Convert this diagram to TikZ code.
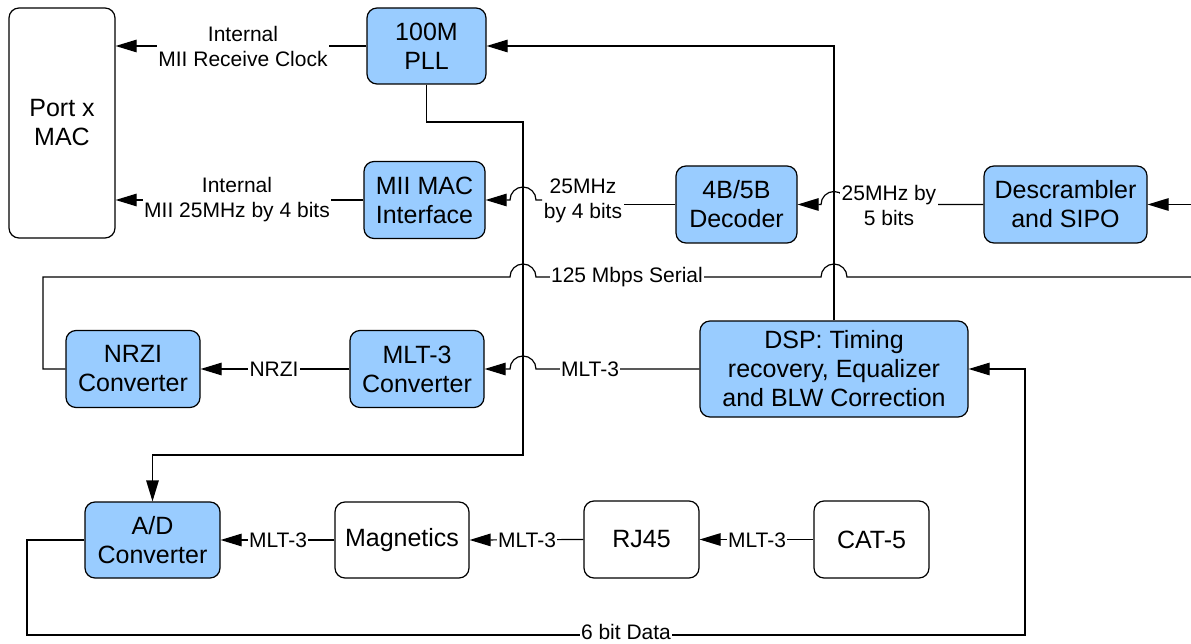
\documentclass[tikz,border=0pt]{standalone}
\usepackage{fontspec}
\setmainfont{Liberation Sans}
\usetikzlibrary{arrows.meta,calc}
\definecolor{boxblue}{RGB}{153,204,255}
\begin{document}
\begin{tikzpicture}[x=1pt,y=-1pt,
  box/.style={draw, line width=1.2pt, rounded corners=10pt, fill=boxblue, align=center,
    font=\fontsize{25}{29}\selectfont, inner sep=0pt},
  wbox/.style={box, fill=white},
  lbl/.style={fill=white, align=center, font=\fontsize{21}{25}\selectfont, inner sep=1.5pt},
  conn/.style={line width=1.2pt},
  arr/.style={conn, -{Triangle[length=21pt,width=12.5pt]}},
]
\useasboundingbox (0,0) rectangle (1191,644);

% boxes
\node[wbox, minimum width=106pt, minimum height=230pt] (port) at (62,123) {Port x\\MAC};
\node[box, minimum width=119pt, minimum height=76pt] (pll) at (426.5,46) {100M\\PLL};
\node[box, minimum width=121pt, minimum height=77pt] (mii) at (424.5,200) {MII MAC\\Interface};
\node[box, minimum width=121pt, minimum height=77pt] (dec) at (736.5,204.5) {4B/5B\\Decoder};
\node[box, minimum width=163pt, minimum height=77pt] (desc) at (1065.5,204.5) {Descrambler\\and SIPO};
\node[box, minimum width=134pt, minimum height=77pt] (nrzi) at (133,369) {NRZI\\Converter};
\node[box, minimum width=134pt, minimum height=77pt] (mlt) at (417,369) {MLT-3\\Converter};
\node[box, minimum width=268pt, minimum height=96pt] (dsp) at (834,369) {DSP: Timing\\recovery, Equalizer\\and BLW Correction};
\node[box, minimum width=135pt, minimum height=76pt] (adc) at (152.5,540) {A/D\\Converter};
\node[wbox, minimum width=134pt, minimum height=76pt] (mag) at (402,540) {Magnetics};
\node[wbox, minimum width=115pt, minimum height=77pt] (rj) at (641.5,539.5) {RJ45};
\node[wbox, minimum width=115pt, minimum height=77pt] (cat) at (871.5,539.5) {CAT-5};

% helper coordinates
\coordinate (v1) at (523,122);
\coordinate (v2) at (523,455);
\coordinate (inR) at (1191,204.5);
\coordinate (sR) at (1191,277);
\coordinate (sL) at (43,277);
\coordinate (b1) at (27,635);
\coordinate (b2) at (1025,635);

% PLL -> Port
\draw[arr] (pll.west) -- (port.east |- pll.west);
% DSP top -> PLL
\draw[arr] (dsp.north) -- (dsp.north |- pll.east) -- (pll.east);
% PLL bottom -> A/D
\draw[arr] (pll.south) -- (pll.south |- v1) -- (v1) -- (v2) -- (v2 -| adc.north) -- (adc.north);
% MII -> Port
\draw[arr] (mii.west) -- (port.east |- mii.west);
% Decoder -> MII (hop at 523)
\node[lbl] (l4) at (583,201) {25MHz\\by 4 bits};
\draw[conn] (dec.west) -- (l4.east |- dec.west);
\draw[arr] (l4.west |- mii.east) -- (536,200)
  .. controls (536,192.8) and (530.2,187) .. (523,187)
  .. controls (515.8,187) and (510,192.8) .. (510,200) -- (mii.east);
% Descrambler -> Decoder (hop at 834)
\draw[arr] (desc.west) -- (847,204.5)
  .. controls (847,197.3) and (841.2,191.5) .. (834,191.5)
  .. controls (826.8,191.5) and (821,197.3) .. (821,204.5) -- (dec.east);
% input
\draw[arr] (inR) -- (desc.east);
% 125 Mbps serial
\draw[conn] (sR) -- (847,277)
  .. controls (847,269.8) and (841.2,264) .. (834,264)
  .. controls (826.8,264) and (821,269.8) .. (821,277) -- (536,277)
  .. controls (536,269.8) and (530.2,264) .. (523,264)
  .. controls (515.8,264) and (510,269.8) .. (510,277) -- (sL) |- (nrzi.west);
% MLT-3 conv -> NRZI conv
\draw[arr] (mlt.west) -- (nrzi.east);
% DSP -> MLT-3 conv (hop at 523)
\draw[arr] (dsp.west) -- (536,369)
  .. controls (536,361.8) and (530.2,356) .. (523,356)
  .. controls (515.8,356) and (510,361.8) .. (510,369) -- (mlt.east);
% bottom chain
\draw[arr] (mag.west) -- (adc.east);
\draw[arr] (rj.west) -- (mag.east);
\draw[arr] (cat.west) -- (rj.east);
% 6 bit data loop
\draw[arr] (adc.west) -| (b1) -- (b2) |- (dsp.east);

% labels
\node[lbl] (lclk) at (243,46) {Internal\\MII Receive Clock};
\node[lbl] (lmii) at (237,200) {Internal\\MII 25MHz by 4 bits};
\node[lbl] (l5) at (889,205) {25MHz by\\5 bits};
\node[lbl] (lser) at (627,277) {125 Mbps Serial};
\node[lbl] (lnrzi) at (274,369) {NRZI};
\node[lbl] (lmd) at (590,369) {MLT-3};
\node[lbl] (lm1) at (278,540) {MLT-3};
\node[lbl] (lm2) at (527,540) {MLT-3};
\node[lbl] (lm3) at (757,540) {MLT-3};
\node[lbl, inner ysep=0.5pt] (l6) at (626,632) {6 bit Data};
\end{tikzpicture}
\end{document}
